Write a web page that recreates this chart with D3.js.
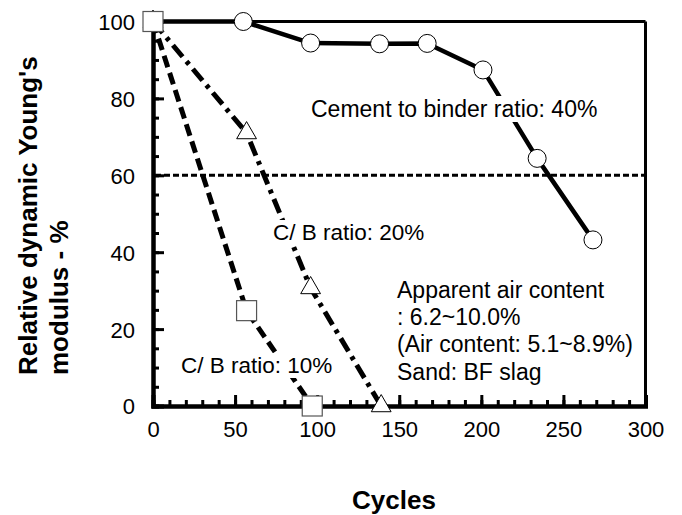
<!DOCTYPE html>
<html>
<head>
<meta charset="utf-8">
<script src="https://cdn.jsdelivr.net/npm/d3@7"></script>
<style>
  html, body { margin: 0; padding: 0; background: #fff; }
  svg { display: block; }
  text { font-family: Arial, "Liberation Sans", sans-serif; fill: #000; }
</style>
</head>
<body>
<svg id="chart" width="682" height="515"></svg>
<script>
// ---- Data ----
const cycles40 = [0, 55, 96, 138, 167, 201, 234, 268];
const rdm40    = [100, 100, 94.4, 94.2, 94.3, 87.4, 64.4, 43.2];
const cycles20 = [0, 57, 96, 139];
const rdm20    = [100, 71, 30.7, 0];
const cycles10 = [0, 57, 97];
const rdm10    = [100, 24.8, 0];
const thresholdLevel = 60;
const xTicks = [0, 50, 100, 150, 200, 250, 300];
const yTicks = [0, 20, 40, 60, 80, 100];
const xMinorTicks = d3.range(0, 301, 10);
const yMinorTicks = d3.range(0, 101, 5);
const labels = {
  c40: "Cement to binder ratio: 40%",
  c20: "C/ B ratio: 20%",
  c10: "C/ B ratio: 10%",
  note: ["Apparent air content", ": 6.2~10.0%", "(Air content: 5.1~8.9%)", "Sand: BF slag"],
  xTitle: "Cycles",
  yTitle: ["Relative dynamic Young's", "modulus - %"]
};

// ---- Layout ----
const svg = d3.select("#chart");
const x = d3.scaleLinear().domain([0, 300]).range([153, 645.5]);
const y = d3.scaleLinear().domain([0, 100]).range([406, 21.5]);
const FS = 22;

// frame top & right
svg.append("line").attr("x1", x(0)).attr("x2", x(300)).attr("y1", y(100)).attr("y2", y(100))
  .attr("stroke", "#000").attr("stroke-width", 3);
svg.append("line").attr("x1", x(300)).attr("x2", x(300)).attr("y1", y(100)).attr("y2", y(0))
  .attr("stroke", "#000").attr("stroke-width", 3);

// minor ticks
const gxm = svg.append("g").attr("transform", `translate(0,${y(0)})`)
  .call(d3.axisBottom(x).tickValues(xMinorTicks).tickSize(-6).tickFormat(""));
const gym = svg.append("g").attr("transform", `translate(${x(0)},0)`)
  .call(d3.axisLeft(y).tickValues(yMinorTicks).tickSize(-6).tickFormat(""));
// major ticks
const gx = svg.append("g").attr("transform", `translate(0,${y(0)})`)
  .call(d3.axisBottom(x).tickValues(xTicks).tickSize(-11).tickPadding(27).tickFormat(d3.format("d")));
const gy = svg.append("g").attr("transform", `translate(${x(0)},0)`)
  .call(d3.axisLeft(y).tickValues(yTicks).tickSize(-11).tickPadding(18).tickFormat(d3.format("d")));

[gxm, gym, gx, gy].forEach(g => {
  g.select(".domain").attr("stroke", "#000").attr("stroke-width", 4);
  g.selectAll(".tick line").attr("stroke", "#000").attr("stroke-width", 3);
  g.selectAll("text").attr("font-size", FS).attr("font-family", "Arial, 'Liberation Sans', sans-serif").attr("fill", "#000");
});
gx.selectAll(".tick text").attr("dy", "0.2em");
gy.selectAll(".tick text").attr("dy", "0.36em");

// threshold dotted line
svg.append("line")
  .attr("x1", x(0) + 2).attr("x2", x(300))
  .attr("y1", y(thresholdLevel)).attr("y2", y(thresholdLevel))
  .attr("stroke", "#000").attr("stroke-width", 3).attr("stroke-dasharray", "6,3");

// series lines
const line = d3.line().x(d => x(d[0])).y(d => y(d[1]));
const s40 = cycles40.map((c, i) => [c, rdm40[i]]);
const s20 = cycles20.map((c, i) => [c, rdm20[i]]);
const s10 = cycles10.map((c, i) => [c, rdm10[i]]);

svg.append("path").datum(s40).attr("d", line).attr("fill", "none")
  .attr("stroke", "#000").attr("stroke-width", 4.5).attr("stroke-linejoin", "round");
svg.append("path").datum(s20).attr("d", line).attr("fill", "none")
  .attr("stroke", "#000").attr("stroke-width", 5).attr("stroke-dasharray", "15,6,4,6");
svg.append("path").datum(s10).attr("d", line).attr("fill", "none")
  .attr("stroke", "#000").attr("stroke-width", 5).attr("stroke-dasharray", "12,6");

// labels with white background
function label(txt, tx, ty, fs) {
  const g = svg.append("g");
  const t = g.append("text").attr("x", tx).attr("y", ty).attr("font-size", fs).text(txt);
  const b = t.node().getBBox();
  g.insert("rect", "text").attr("x", b.x - 2).attr("y", b.y).attr("width", b.width + 4).attr("height", b.height)
    .attr("fill", "#fff");
  return g;
}
label(labels.c40, 311, 117, 23);
label(labels.c20, 273, 240, 22.5);
label(labels.c10, 181, 373, 22.5);
labels.note.forEach((s, i) => label(s, 397, 298 + i * 27.2, 23));

// markers
const sym = d3.symbol();
svg.selectAll(".m40").data(s40).join("circle")
  .attr("cx", d => x(d[0])).attr("cy", d => y(d[1])).attr("r", 9)
  .attr("fill", "#fff").attr("stroke", "#000").attr("stroke-width", 1);
svg.selectAll(".m20").data(s20).join("path")
  .attr("transform", d => `translate(${x(d[0])},${y(d[1])})`)
  .attr("d", sym.type(d3.symbolTriangle).size(170)())
  .attr("fill", "#fff").attr("stroke", "#000").attr("stroke-width", 1);
svg.selectAll(".m10").data(s10).join("rect")
  .attr("x", d => x(d[0]) - 10).attr("y", d => y(d[1]) - 10).attr("width", 20).attr("height", 20)
  .attr("fill", "#fff").attr("stroke", "#555").attr("stroke-width", 1.2);

// axis titles
svg.append("text").attr("x", 394).attr("y", 509).attr("text-anchor", "middle")
  .attr("font-size", 26).attr("font-weight", "bold").text(labels.xTitle);
svg.append("text").attr("transform", "translate(37,375) rotate(-90)")
  .attr("font-size", 26).attr("font-weight", "bold").text(labels.yTitle[0]);
svg.append("text").attr("transform", "translate(68,375) rotate(-90)")
  .attr("font-size", 26).attr("font-weight", "bold").text(labels.yTitle[1]);
</script>
</body>
</html>
